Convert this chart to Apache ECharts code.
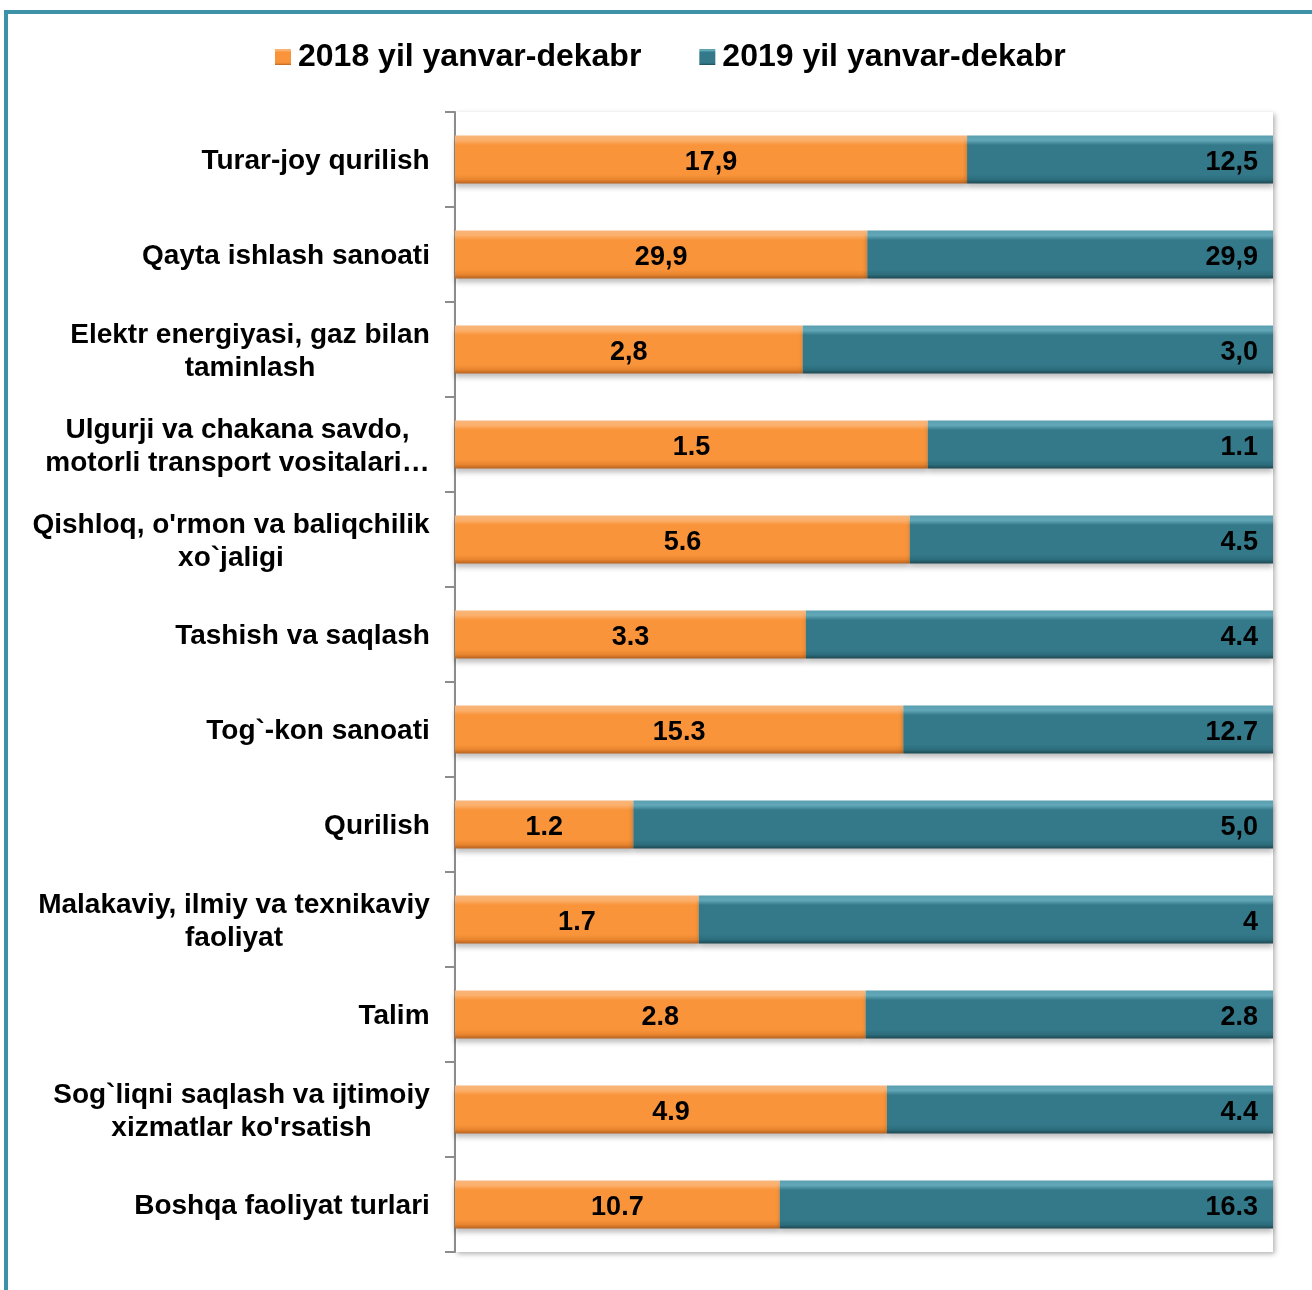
<!DOCTYPE html>
<html>
<head>
<meta charset="utf-8">
<script src="https://cdn.jsdelivr.net/npm/echarts@6/dist/echarts.min.js"></script>
<style>
html,body{margin:0;padding:0;background:#fff;}
#chart{width:1312px;height:1290px;}
</style>
</head>
<body>
<div id="chart"></div>
<script>
const categories = [
  'Turar-joy qurilish',
  'Qayta ishlash sanoati',
  'Elektr energiyasi, gaz bilan\ntaminlash',
  'Ulgurji va chakana savdo,\nmotorli transport vositalari…',
  "Qishloq, o'rmon va baliqchilik\nxo`jaligi",
  'Tashish va saqlash',
  'Tog`-kon sanoati',
  'Qurilish',
  'Malakaviy, ilmiy va texnikaviy\nfaoliyat',
  'Talim',
  "Sog`liqni saqlash va ijtimoiy\nxizmatlar ko'rsatish",
  'Boshqa faoliyat turlari'
];
const seriesNames = ['2018 yil yanvar-dekabr', '2019 yil yanvar-dekabr'];
// bar shares (percent of the row)
const share2018 = [62.6, 50.4, 42.5, 57.8, 55.6, 42.9, 54.8, 21.8, 29.8, 50.2, 52.8, 39.7];
const share2019 = [37.4, 49.6, 57.5, 42.2, 44.4, 57.1, 45.2, 78.2, 70.2, 49.8, 47.2, 60.3];
// printed labels
const labels2018 = ['17,9', '29,9', '2,8', '1.5', '5.6', '3.3', '15.3', '1.2', '1.7', '2.8', '4.9', '10.7'];
const labels2019 = ['12,5', '29,9', '3,0', '1.1', '4.5', '4.4', '12.7', '5,0', '4', '2.8', '4.4', '16.3'];

const FONT = 'Arial, "Liberation Sans", sans-serif';
const ctx = document.createElement('canvas').getContext('2d');
ctx.font = 'bold 28px ' + FONT;
const rich = {};
categories.forEach((c, i) => {
  const lines = c.split('\n');
  const w = Math.max(...lines.map(l => ctx.measureText(l).width));
  rich['c' + i] = {width: Math.ceil(w), align: 'center', fontSize: 28, fontWeight: 'bold',
    fontFamily: FONT, color: '#000', lineHeight: 33, padding: [4, 0, 0, 0]};
});

function grad(top, light, main, dark, bottom) {
  return new echarts.graphic.LinearGradient(0, 0, 0, 1, [
    {offset: 0, color: top},
    {offset: 0.1, color: light},
    {offset: 0.2, color: main},
    {offset: 0.82, color: main},
    {offset: 0.92, color: dark},
    {offset: 1, color: bottom}
  ]);
}
const orange = grad('#F8B57A', '#FBB06C', '#F9943A', '#E7842E', '#B8621F');
const teal = grad('#5A9FAF', '#63A8B8', '#33798A', '#2C6C7B', '#1E4852');

const chart = echarts.init(document.getElementById('chart'), null, {renderer: 'canvas'});
chart.setOption({
  animation: false,
  backgroundColor: '#fff',
  graphic: [{
    type: 'rect', silent: true, z: 100,
    shape: {x: 6, y: 12, width: 1400, height: 1400},
    style: {fill: 'none', stroke: '#3D92A8', lineWidth: 4}
  }],
  legend: {
    left: 270, top: 36,
    itemWidth: 16, itemHeight: 16, itemGap: 58,
    icon: 'rect',
    textStyle: {fontSize: 32, fontWeight: 'bold', fontFamily: FONT, color: '#000', padding: [3, 0, 0, 2]},
    data: seriesNames
  },
  grid: {
    left: 455, right: 39, top: 112, bottom: 38,
    show: true, borderWidth: 0, backgroundColor: '#fff',
    shadowColor: 'rgba(0,0,0,0.3)', shadowBlur: 5, shadowOffsetX: 2, shadowOffsetY: 2
  },
  xAxis: {type: 'value', min: 0, max: 100, show: false},
  yAxis: {
    type: 'category', inverse: true, data: categories,
    axisLine: {show: true, lineStyle: {color: '#8C8C8C', width: 2}},
    axisTick: {show: true, length: 10, lineStyle: {color: '#8C8C8C', width: 2}},
    axisLabel: {
      margin: 25, rich: rich,
      formatter: (v, i) => v.split('\n').map(l => '{c' + i + '|' + l + '}').join('\n')
    }
  },
  series: [
    {
      name: seriesNames[0], type: 'bar', stack: 'all', barWidth: 48,
      data: share2018,
      itemStyle: {color: orange, shadowColor: 'rgba(0,0,0,0.25)', shadowBlur: 5, shadowOffsetY: 4},
      label: {show: true, position: 'inside', offset: [0, 3], color: '#000', fontSize: 27, fontWeight: 'bold', fontFamily: FONT,
        formatter: p => labels2018[p.dataIndex]}
    },
    {
      name: seriesNames[1], type: 'bar', stack: 'all', barWidth: 48,
      data: share2019,
      itemStyle: {color: teal, shadowColor: 'rgba(0,0,0,0.25)', shadowBlur: 5, shadowOffsetY: 4},
      label: {show: true, position: 'insideRight', distance: 15, offset: [0, 3], color: '#000', fontSize: 27, fontWeight: 'bold', fontFamily: FONT,
        formatter: p => labels2019[p.dataIndex]}
    }
  ]
});
</script>
</body>
</html>
